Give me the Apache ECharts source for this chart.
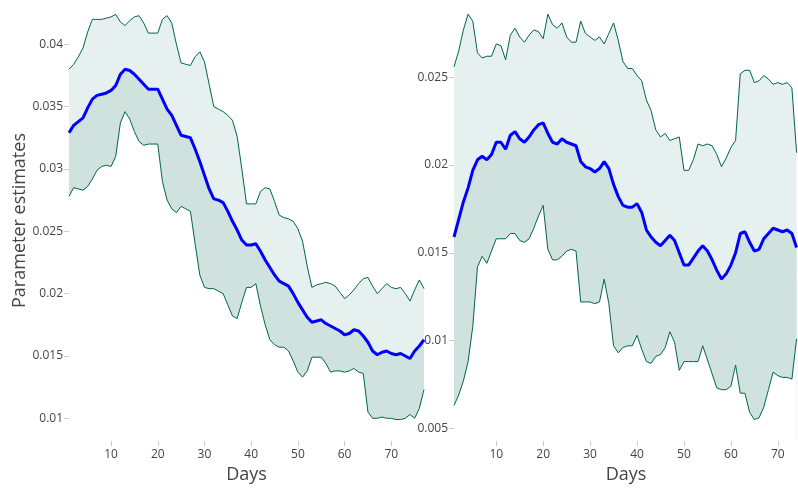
<!DOCTYPE html>
<html>
<head>
<meta charset="utf-8">
<script src="https://cdn.jsdelivr.net/npm/echarts@6/dist/echarts.min.js"></script>
<style>html,body{margin:0;padding:0;background:#fff}#c{width:798px;height:489px}</style>
</head>
<body>
<div id="c"></div>
<script>
// ---- Data ----
const daysLeft = Array.from({length: 77}, (_, i) => i + 1);
const daysRight = Array.from({length: 74}, (_, i) => i + 1);

const leftUpper = [0.0380,0.0384,0.0390,0.0397,0.0410,0.0420,0.0420,0.0420,0.0421,0.0422,
0.0424,0.0418,0.0415,0.0419,0.0422,0.0423,0.0417,0.0409,0.0409,0.0409,
0.0420,0.0423,0.0417,0.0400,0.0385,0.0384,0.0383,0.0390,0.0394,0.0386,
0.0368,0.0350,0.0348,0.0346,0.0343,0.0339,0.0326,0.0300,0.0272,0.0272,
0.0272,0.0282,0.0285,0.0284,0.0274,0.0263,0.0261,0.0260,0.0258,0.0252,
0.0242,0.0222,0.0205,0.0207,0.0208,0.0209,0.0208,0.0206,0.0201,0.0196,
0.0199,0.0203,0.0208,0.0212,0.0213,0.0206,0.0200,0.0204,0.0208,0.0205,
0.0204,0.0205,0.0200,0.0194,0.0203,0.0211,0.0204];

const leftMean = [0.0329,0.0335,0.0338,0.0341,0.0349,0.0356,0.0359,0.0360,0.0361,0.0363,
0.0367,0.0376,0.0380,0.0379,0.0376,0.0372,0.0368,0.0364,0.0364,0.0364,
0.0356,0.0348,0.0343,0.0335,0.0327,0.0326,0.0325,0.0316,0.0306,0.0295,
0.0284,0.0276,0.0275,0.0273,0.0266,0.0258,0.0251,0.0243,0.0239,0.0239,
0.0240,0.0234,0.0227,0.0221,0.0215,0.0210,0.0208,0.0206,0.0200,0.0193,
0.0187,0.0181,0.0177,0.0178,0.0179,0.0176,0.0174,0.0172,0.0170,0.0167,
0.0168,0.0171,0.0170,0.0166,0.0161,0.0154,0.0151,0.0153,0.0154,0.0152,
0.0151,0.0152,0.0150,0.0148,0.0154,0.0158,0.0163];

const leftLower = [0.0278,0.0285,0.0284,0.0283,0.0286,0.0292,0.0299,0.0302,0.0303,0.0302,
0.0310,0.0337,0.0346,0.0340,0.0330,0.0322,0.0319,0.0320,0.0320,0.0320,
0.0290,0.0275,0.0268,0.0265,0.0270,0.0268,0.0266,0.0240,0.0215,0.0205,
0.0204,0.0204,0.0202,0.0200,0.0191,0.0182,0.0180,0.0193,0.0205,0.0205,
0.0208,0.0190,0.0175,0.0163,0.0159,0.0157,0.0157,0.0154,0.0146,0.0137,
0.0133,0.0138,0.0149,0.0149,0.0149,0.0144,0.0137,0.0138,0.0138,0.0137,
0.0138,0.0140,0.0137,0.0136,0.0105,0.0100,0.0100,0.0101,0.0100,0.0100,
0.0099,0.0099,0.0100,0.0103,0.0100,0.0108,0.0123];

const rightUpper = [0.0256,0.0265,0.0277,0.0286,0.0282,0.0264,0.0261,0.0262,0.0262,0.0269,
0.0268,0.0260,0.0274,0.0278,0.0273,0.0270,0.0274,0.0277,0.0276,0.0272,
0.0286,0.0280,0.0278,0.0281,0.0273,0.0270,0.0270,0.0282,0.0275,0.0273,
0.0271,0.0273,0.0269,0.0275,0.0281,0.0271,0.0259,0.0255,0.0255,0.0251,
0.0248,0.0237,0.0231,0.0220,0.0216,0.0218,0.0214,0.0215,0.0216,0.0197,
0.0197,0.0203,0.0212,0.0211,0.0212,0.0211,0.0206,0.0199,0.0204,0.0210,
0.0214,0.0252,0.0254,0.0254,0.0247,0.0248,0.0251,0.0249,0.0246,0.0247,
0.0246,0.0247,0.0244,0.0207];

const rightMean = [0.0159,0.0169,0.0179,0.0187,0.0197,0.0203,0.0205,0.0203,0.0206,0.0213,
0.0213,0.0209,0.0217,0.0219,0.0215,0.0213,0.0216,0.0220,0.0223,0.0224,
0.0218,0.0213,0.0212,0.0215,0.0213,0.0212,0.0211,0.0202,0.0199,0.0198,
0.0196,0.0198,0.0202,0.0198,0.0189,0.0182,0.0177,0.0176,0.0176,0.0178,
0.0173,0.0163,0.0159,0.0156,0.0154,0.0157,0.0160,0.0157,0.0150,0.0143,
0.0143,0.0147,0.0151,0.0154,0.0151,0.0146,0.0140,0.0135,0.0138,0.0143,
0.0150,0.0161,0.0162,0.0156,0.0151,0.0152,0.0158,0.0161,0.0164,0.0163,
0.0162,0.0163,0.0161,0.0153];

const rightLower = [0.0063,0.0069,0.0077,0.0088,0.0108,0.0142,0.0148,0.0144,0.0151,0.0158,
0.0158,0.0158,0.0161,0.0161,0.0157,0.0156,0.0158,0.0164,0.0171,0.0177,
0.0152,0.0146,0.0146,0.0148,0.0151,0.0152,0.0151,0.0122,0.0122,0.0122,
0.0121,0.0122,0.0135,0.0121,0.0097,0.0093,0.0096,0.0097,0.0097,0.0103,
0.0095,0.0088,0.0087,0.0091,0.0092,0.0096,0.0105,0.0099,0.0083,0.0088,
0.0088,0.0088,0.0088,0.0097,0.0089,0.0081,0.0073,0.0072,0.0072,0.0074,
0.0086,0.0070,0.0070,0.0059,0.0055,0.0056,0.0062,0.0072,0.0082,0.0080,
0.0079,0.0079,0.0078,0.0101];

const xTicks = [10, 20, 30, 40, 50, 60, 70];
const leftYTicks = [0.01, 0.015, 0.02, 0.025, 0.03, 0.035, 0.04];
const rightYTicks = [0.005, 0.01, 0.015, 0.02, 0.025];

// ---- Chart ----
const FONT = '"Open Sans", sans-serif';
const TXT = '#444';
const pair = (xs, ys) => xs.map((x, i) => [x, ys[i]]);

function xAxisDef(gi, max) {
  return {
    type: 'value', gridIndex: gi, min: 1, max: max, z: 10,
    name: 'Days', nameLocation: 'middle', nameGap: 24,
    nameTextStyle: {fontFamily: FONT, fontSize: 18, color: TXT},
    axisLine: {show: false}, splitLine: {show: false},
    axisTick: {show: true, length: 5, customValues: xTicks, lineStyle: {color: '#ccc'}},
    axisLabel: {customValues: xTicks, margin: 8, fontFamily: FONT, fontSize: 12, color: TXT}
  };
}
function yAxisDef(gi, min, max, ticks, withName) {
  const fmt = v => String(+v.toFixed(3));
  const a = {
    type: 'value', gridIndex: gi, min: min, max: max, z: 10,
    axisLine: {show: false}, splitLine: {show: false},
    axisTick: {show: true, length: 5, customValues: ticks, lineStyle: {color: '#ccc'}},
    axisLabel: {customValues: ticks, margin: 6, formatter: fmt, fontFamily: FONT, fontSize: 12, color: TXT}
  };
  if (withName) {
    a.name = 'Parameter estimates';
    a.nameLocation = 'middle';
    a.nameGap = 38;
    a.nameTextStyle = {fontFamily: FONT, fontSize: 18, color: TXT};
  }
  return a;
}
function panelSeries(gi, days, upper, mean, lower) {
  const base = {type: 'line', xAxisIndex: gi, yAxisIndex: gi, symbol: 'none', silent: true, animation: false};
  return [
    // layered fills down to the axis start: light above mean, darker between lower and mean, white below lower
    Object.assign({}, base, {data: pair(days, upper), lineStyle: {width: 0, opacity: 0},
      areaStyle: {color: '#e6f0ee', opacity: 1, origin: 'start'}, z: 1}),
    Object.assign({}, base, {data: pair(days, mean), lineStyle: {width: 0, opacity: 0},
      areaStyle: {color: '#cfe2de', opacity: 1, origin: 'start'}, z: 1}),
    Object.assign({}, base, {data: pair(days, lower), lineStyle: {width: 0, opacity: 0},
      areaStyle: {color: '#ffffff', opacity: 1, origin: 'start'}, z: 1}),
    Object.assign({}, base, {data: pair(days, upper), lineStyle: {width: 1, color: 'rgb(0,100,80)'}, z: 3}),
    Object.assign({}, base, {data: pair(days, lower), lineStyle: {width: 1, color: 'rgb(0,100,80)'}, z: 3}),
    Object.assign({}, base, {data: pair(days, mean), lineStyle: {width: 3, color: '#0000ff'}, z: 4})
  ];
}

const chart = echarts.init(document.getElementById('c'), null, {renderer: 'canvas'});
chart.setOption({
  backgroundColor: '#fff',
  animation: false,
  grid: [
    {left: 69, top: 0, width: 355, height: 441},
    {left: 454, top: 0, right: 0, height: 441}
  ],
  xAxis: [xAxisDef(0, 77), xAxisDef(1, 74.3)],
  yAxis: [
    yAxisDef(0, 0.008178, 0.043555, leftYTicks, true),
    yAxisDef(1, 0.004276, 0.029405, rightYTicks, false)
  ],
  series: [].concat(
    panelSeries(0, daysLeft, leftUpper, leftMean, leftLower),
    panelSeries(1, daysRight, rightUpper, rightMean, rightLower)
  )
});
</script>
</body>
</html>
